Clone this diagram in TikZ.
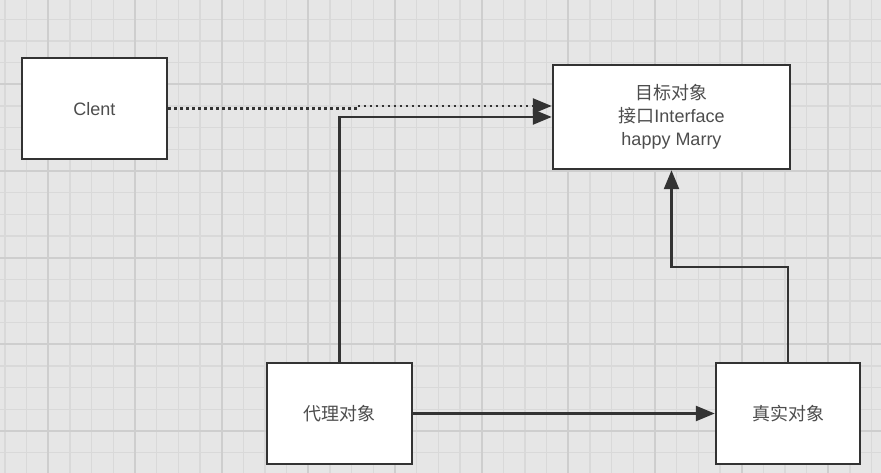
\documentclass[tikz,border=0pt]{standalone}
\usepackage{fontspec}
\setmainfont{Liberation Sans}
\newfontfamily\cjk{Noto Sans CJK SC}
\usetikzlibrary{arrows.meta}
\definecolor{bgc}{HTML}{E6E6E6}
\definecolor{minorc}{HTML}{D9D9D9}
\definecolor{majorc}{HTML}{CECECE}
\definecolor{linec}{HTML}{333333}
\definecolor{textc}{HTML}{4D4D4D}
\tikzset{
  box/.style={draw=linec, line width=2.5pt, fill=white, inner sep=0pt, align=center,
    text=textc, font=\fontsize{18}{23}\selectfont},
  conn/.style={draw=linec, line width=2.5pt, -{Triangle[length=19pt,width=15pt]}},
  dotconn/.style={conn, dash pattern=on 2.5pt off 3.5pt},
  minorline/.style={draw=minorc, line width=1.2pt},
  majorline/.style={draw=majorc, line width=1.8pt}
}
\begin{document}
\begin{tikzpicture}[x=1pt,y=-1pt]
\fill[bgc] (0,0) rectangle (881,473);
\useasboundingbox (0,0) rectangle (881,473);
% grid
\foreach \i in {0,...,40} {
  \pgfmathsetmacro\xx{5+21.667*\i}
  \draw[minorline] (\xx,0) -- (\xx,473);
}
\foreach \i in {-1,...,21} {
  \pgfmathsetmacro\yy{19.33+21.667*\i}
  \draw[minorline] (0,\yy) -- (881,\yy);
}
\foreach \i in {0,...,9} {
  \pgfmathsetmacro\xx{48.33+86.667*\i}
  \draw[majorline] (\xx,0) -- (\xx,473);
}
\foreach \i in {-1,...,4} {
  \pgfmathsetmacro\yy{84.33+86.667*\i}
  \draw[majorline] (0,\yy) -- (881,\yy);
}
% nodes
\node[box, minimum width=145pt, minimum height=101pt] (client) at (94.5,108.7) {Clent};
\node[box, minimum width=237pt, minimum height=104pt] (target) at (671.5,117)
  {{\cjk 目标对象}\\{\cjk 接口}Interface\\happy Marry};
\node[box, minimum width=145pt, minimum height=101pt] (proxy) at (339.5,413.5) {\cjk 代理对象};
\node[box, minimum width=144pt, minimum height=101pt] (real) at (788,413.5) {\cjk 真实对象};
% helper coordinates
\coordinate (d1) at (359,108.7);
\coordinate (d2) at (359,106);
\coordinate (r1) at (730,267);
% connectors
\draw[dotconn] (client.east) -- (d1) -- (d2) -- (d2 -| target.west);
\draw[conn] (proxy.north) |- (target.west);
\draw[conn] (proxy.east) -- (real.west);
\draw[conn] (real.north) -- (real.north |- r1) -- (target.south |- r1) -- (target.south);
\end{tikzpicture}
\end{document}
